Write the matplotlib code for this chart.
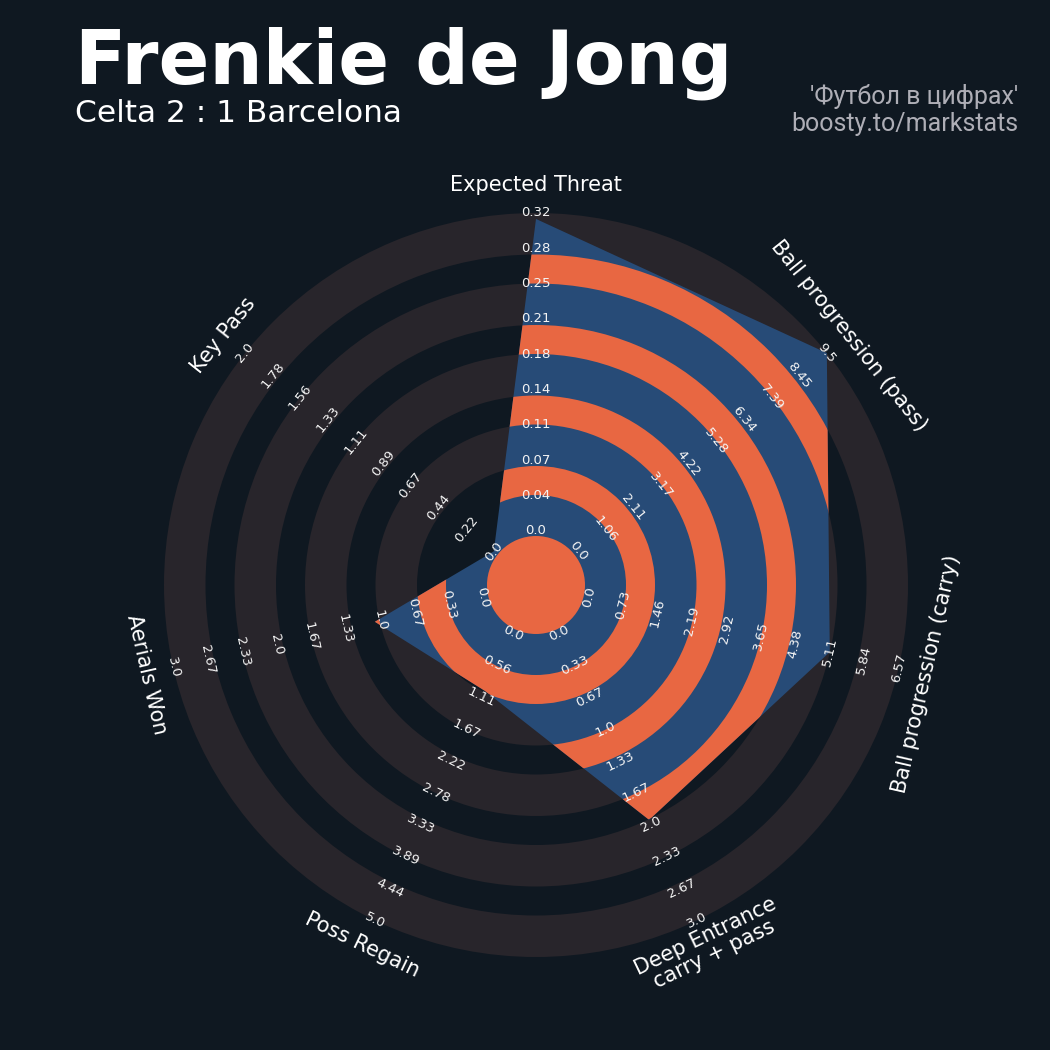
import numpy as np
import matplotlib
matplotlib.use("Agg")
import matplotlib.pyplot as plt
from matplotlib.patches import Wedge, Polygon, Circle

# Radar parameters (clockwise from the top) and their ranges
params = ["Expected Threat", "Ball progression (pass)", "Ball progression (carry)",
          "Deep Entrance\ncarry + pass", "Poss Regain", "Aerials Won", "Key Pass"]
low = [0.0, 0.0, 0.0, 0.0, 0.0, 0.0, 0.0]
high = [0.32, 9.503, 6.57, 3.0, 5.0, 3.0, 2.0]
player_values = [0.314, 9.503, 5.11, 1.95, 1.0, 1.05, 0.0]

title = "Frenkie de Jong"
subtitle = "Celta 2 : 1 Barcelona"
credit = ["'Футбол в цифрах'", "boosty.to/markstats"]

# Colours
BG = "#0f1821"
RING = "#28252b"
BLUE = "#274b77"
ORANGE = "#e86742"
TEXT = "#ffffff"
CREDIT = "#aeaeb6"

# Radar geometry (figure pixels)
W = H = 1050
CX, CY = 536, 585
R_MAX = 372.0        # outer edge of the radar
R_ZERO = 54.0        # radius at which the lower bound of each range sits
R_CENTER = 49.0      # centre disc
RING_W = 41.5        # width of a filled ring
GAP_W = 29.0         # width of the gap between rings
N_RINGS = 4
N_LABELS = 10

fig = plt.figure(figsize=(W / 100, H / 100), dpi=100, facecolor=BG)
ax = fig.add_axes([0, 0, 1, 1])
ax.set_facecolor(BG)
ax.set_xlim(-CX, W - CX)
ax.set_ylim(-(H - CY), CY)
ax.set_aspect("equal")
ax.axis("off")

n = len(params)
theta = np.arange(n) * 2 * np.pi / n


def to_radius(v, lo, hi):
    return R_ZERO + (v - lo) / (hi - lo) * (R_MAX - R_ZERO)


def tangent_rotation(t):
    rot = -np.degrees(t)
    rot = (rot + 180) % 360 - 180
    if rot < -90 or rot > 90:
        rot += 180
        rot = (rot + 180) % 360 - 180
    return rot


# Outer (background) rings
step = RING_W + GAP_W
for j in range(N_RINGS):
    r_out = R_MAX - j * step
    ax.add_patch(Wedge((0, 0), r_out, 0, 360, width=RING_W,
                       facecolor=RING, edgecolor="none", zorder=1))

# Player polygon
radii = [to_radius(v, lo, hi) for v, lo, hi in zip(player_values, low, high)]
verts = np.column_stack([np.array(radii) * np.sin(theta),
                         np.array(radii) * np.cos(theta)])
poly = Polygon(verts, closed=True, facecolor=BLUE, edgecolor="none", zorder=2)
ax.add_patch(poly)

# Inner rings, visible only inside the polygon
inner = [Circle((0, 0), R_CENTER)]
for j in range(N_RINGS):
    r_out = R_MAX - RING_W - j * step
    inner.append(Wedge((0, 0), r_out, 0, 360, width=GAP_W))
for p in inner:
    p.set_facecolor(ORANGE)
    p.set_edgecolor("none")
    p.set_zorder(3)
    ax.add_patch(p)
    p.set_clip_path(poly)

# Range labels along each axis
for i in range(n):
    rot = tangent_rotation(theta[i])
    vals = np.linspace(low[i], high[i], N_LABELS)
    rads = np.linspace(R_ZERO, R_MAX, N_LABELS)
    for v, r in zip(vals, rads):
        ax.text(r * np.sin(theta[i]), r * np.cos(theta[i]), f"{round(float(v), 2)}",
                rotation=rot, rotation_mode="anchor", ha="center", va="center",
                fontsize=9.5, color="#f4f4f4", zorder=5)

# Parameter names
R_PARAM = 400
for i, name in enumerate(params):
    ax.text(R_PARAM * np.sin(theta[i]), R_PARAM * np.cos(theta[i]), name,
            rotation=tangent_rotation(theta[i]), rotation_mode="anchor",
            ha="center", va="center", fontsize=15, color=TEXT,
            linespacing=1.05, zorder=5)

# Headings
fig.text(75 / W, 1 - 83 / H, title, fontsize=54, fontweight="bold",
         color=TEXT, ha="left", va="baseline")
fig.text(75 / W, 1 - 122 / H, subtitle, fontsize=22.5, color=TEXT,
         ha="left", va="baseline")
fig.text(1018 / W, 1 - 104 / H, credit[0], fontsize=18, color=CREDIT,
         ha="right", va="baseline", family=["Roboto", "DejaVu Sans"])
fig.text(1018 / W, 1 - 131 / H, credit[1], fontsize=18, color=CREDIT,
         ha="right", va="baseline", family=["Roboto", "DejaVu Sans"])

fig.savefig("out.png", dpi=100, facecolor=BG)
